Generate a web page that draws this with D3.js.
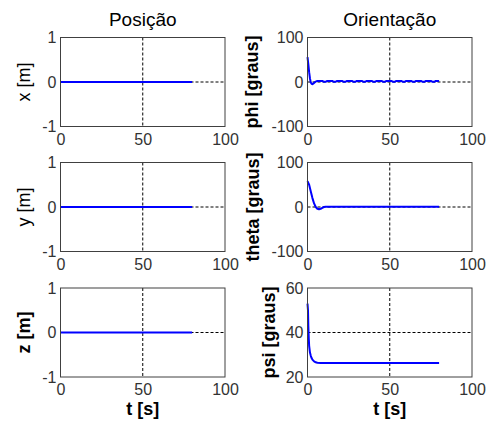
<!DOCTYPE html>
<html><head><meta charset="utf-8">
<script src="https://cdn.jsdelivr.net/npm/d3@7"></script>
<style>body{margin:0;background:#fff}svg{display:block}text{font-family:"Liberation Sans",Arial,sans-serif}</style>
</head><body>
<script>
// ---- data ----
const columnTitles = ["Posição", "Orientação"];
const xTicks = [0, 50, 100];
const posTicks = [-1, 0, 1];
const angTicks = [-100, 0, 100];
const psiTicks = [20, 40, 60];

const tPos = [0, 20, 40, 60, 80];
const xPos = [0, 0, 0, 0, 0];
const yPos = [0, 0, 0, 0, 0];
const zPos = [0, 0, 0, 0, 0];

const tPhi = [0, 0.5, 1, 1.5, 2, 2.5, 3, 4, 5, 6, 9, 10, 11, 12, 15, 16, 17, 18, 21, 22, 23, 24, 27, 28, 29, 30, 33, 34, 35, 36, 39, 40, 41, 42, 45, 46, 47, 48, 51, 52, 53, 54, 57, 58, 59, 60, 63, 64, 65, 66, 69, 70, 71, 72, 75, 76, 77, 78, 80];
const phi = [56, 40, 22, 8, -1, -4, -5, -2, 1, 2.5, 2.5, 0.5, 0.5, 2.5, 2.5, 0.5, 0.5, 2.5, 2.5, 0.5, 0.5, 2.5, 2.5, 0.5, 0.5, 2.5, 2.5, 0.5, 0.5, 2.5, 2.5, 0.5, 0.5, 2.5, 2.5, 0.5, 0.5, 2.5, 2.5, 0.5, 0.5, 2.5, 2.5, 0.5, 0.5, 2.5, 2.5, 0.5, 0.5, 2.5, 2.5, 0.5, 0.5, 2.5, 2.5, 0.5, 0.5, 2.5, 2.5];

const tTheta = [0, 1, 2, 3, 4, 5, 6, 7, 8, 9, 10, 11, 80];
const theta = [58, 50, 35, 20, 8, 0, -4, -5, -4, -2, 0, 0.5, 0.5];

const tPsi = [0, 0.3, 0.5, 0.8, 1, 1.5, 2, 2.5, 3, 4, 5, 6, 8, 80];
const psi = [53, 50, 43, 37, 34, 31, 29.5, 28.5, 27.8, 27, 26.6, 26.4, 26.3, 26.3];

const panels = [
  {col: 0, row: 0, label: "x [m]", bold: false, t: tPos, v: xPos, ticks: posTicks, lblX: 30},
  {col: 0, row: 1, label: "y [m]", bold: false, t: tPos, v: yPos, ticks: posTicks, lblX: 30},
  {col: 0, row: 2, label: "z [m]", bold: true, t: tPos, v: zPos, ticks: posTicks, lblX: 30},
  {col: 1, row: 0, label: "phi [graus]", bold: true, t: tPhi, v: phi, ticks: angTicks, lblX: 258},
  {col: 1, row: 1, label: "theta [graus]", bold: true, t: tTheta, v: theta, ticks: angTicks, lblX: 258.5},
  {col: 1, row: 2, label: "psi [graus]", bold: true, t: tPsi, v: psi, ticks: psiTicks, lblX: 274.5}
];

// ---- layout ----
const W = 491, H = 425;
const colX = [60.5, 307.5], plotW = 164.5;
const rowY = [37.5, 162.5, 288], plotH = 89;

const svg = d3.select("body").append("svg").attr("width", W).attr("height", H);

columnTitles.forEach((tt, i) => {
  svg.append("text").attr("x", colX[i] + plotW / 2).attr("y", 26)
    .attr("text-anchor", "middle").attr("font-size", 19).attr("fill", "#000").text(tt);
});

panels.forEach(p => {
  const x0 = colX[p.col], y0 = rowY[p.row];
  const xs = d3.scaleLinear().domain([0, 100]).range([x0, x0 + plotW]);
  const ys = d3.scaleLinear().domain([p.ticks[0], p.ticks[2]]).range([y0 + plotH, y0]);
  const g = svg.append("g");
  g.append("rect").attr("x", x0).attr("y", y0).attr("width", plotW).attr("height", plotH)
    .attr("fill", "#fff");
  // grid
  g.append("line").attr("x1", xs(50)).attr("x2", xs(50)).attr("y1", y0).attr("y2", y0 + plotH)
    .attr("stroke", "#000").attr("stroke-dasharray", "3,2").attr("stroke-width", 1);
  g.append("line").attr("x1", x0).attr("x2", x0 + plotW).attr("y1", ys(p.ticks[1])).attr("y2", ys(p.ticks[1]))
    .attr("stroke", "#000").attr("stroke-dasharray", "3,2").attr("stroke-width", 1);
  // line
  const line = d3.line().x((d, i) => xs(p.t[i])).y(d => ys(d));
  g.append("path").datum(p.v).attr("d", line).attr("fill", "none")
    .attr("stroke", "#0000ff").attr("stroke-width", 2).attr("stroke-linejoin", "round");
  // axes (tick labels only)
  const fmt = d => String(d);
  const ax = g.append("g").attr("transform", `translate(0,${y0 + plotH})`)
    .call(d3.axisBottom(xs).tickValues(xTicks).tickFormat(fmt).tickSize(0).tickPadding(7));
  const ay = g.append("g").attr("transform", `translate(${x0},0)`)
    .call(d3.axisLeft(ys).tickValues(p.ticks).tickFormat(fmt).tickSize(0).tickPadding(4));
  [ax, ay].forEach(a => {
    a.select(".domain").remove();
    a.selectAll("text").attr("font-size", 16).attr("fill", "#333").attr("font-family", '"Liberation Sans",Arial,sans-serif');
  });
  // box
  g.append("rect").attr("x", x0).attr("y", y0).attr("width", plotW).attr("height", plotH)
    .attr("fill", "none").attr("stroke", "#404040").attr("stroke-width", 1);
  // y label
  svg.append("text").attr("transform", `translate(${p.lblX},${y0 + plotH / 2}) rotate(-90)`)
    .attr("text-anchor", "middle").attr("font-size", 18)
    .attr("font-weight", p.bold ? "bold" : "normal").text(p.label);
  if (p.row === 2) {
    svg.append("text").attr("x", x0 + plotW / 2).attr("y", 415)
      .attr("text-anchor", "middle").attr("font-size", 18).attr("font-weight", "bold").text("t [s]");
  }
});
</script>
</body></html>
